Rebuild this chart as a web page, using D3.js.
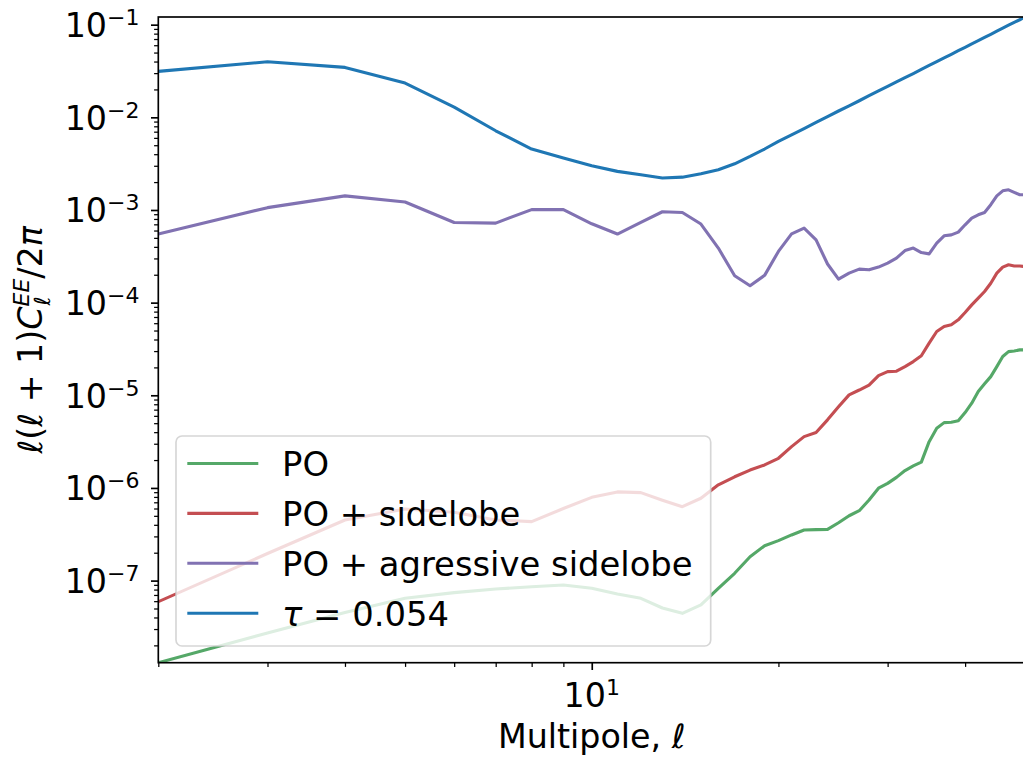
<!DOCTYPE html>
<html>
<head>
<meta charset="utf-8">
<script src="https://cdn.jsdelivr.net/npm/d3@7"></script>
<style>
  body { margin: 0; background: #ffffff; }
  svg { display: block; }
  text { font-family: "DejaVu Sans", sans-serif; fill: #000000; }
</style>
</head>
<body>
<svg id="chart" width="1023" height="757"></svg>
<script>
// Multipoles ℓ and the EE band powers ℓ(ℓ+1)C_ℓ/2π for each case
const multipoles = [2, 3, 4, 5, 6, 7, 8, 9, 10, 11, 12, 13, 14, 15, 16, 17, 18, 19, 20,
  21, 22, 23, 24, 25, 26, 27, 28, 29, 30, 31, 32, 33, 34, 35, 36, 37, 38, 39, 40,
  41, 42, 43, 44, 45, 46, 47, 48, 49, 50];

const clPO = [1.30e-8, 2.72e-8, 4.53e-8, 6.44e-8, 7.41e-8, 8.11e-8, 8.59e-8, 8.96e-8, 8.26e-8,
  7.16e-8, 6.44e-8, 5.06e-8, 4.43e-8, 5.46e-8, 8.26e-8, 1.20e-7, 1.81e-7, 2.38e-7, 2.70e-7,
  3.11e-7, 3.52e-7, 3.55e-7, 3.57e-7, 4.21e-7, 5.01e-7, 5.68e-7, 7.41e-7, 9.93e-7, 1.12e-6,
  1.30e-6, 1.54e-6, 1.73e-6, 1.90e-6, 3.16e-6, 4.42e-6, 5.07e-6, 5.12e-6, 5.30e-6, 6.51e-6,
  8.22e-6, 1.10e-5, 1.33e-5, 1.59e-5, 2.04e-5, 2.62e-5, 2.96e-5, 3.01e-5, 3.09e-5, 3.09e-5];

const clSidelobe = [5.92e-8, 1.96e-7, 4.51e-7, 5.93e-7, 5.46e-7, 4.51e-7, 4.33e-7, 6.00e-7, 7.92e-7,
  9.06e-7, 8.90e-7, 7.38e-7, 6.28e-7, 7.74e-7, 1.08e-6, 1.32e-6, 1.56e-6, 1.77e-6, 2.09e-6,
  2.79e-6, 3.58e-6, 3.96e-6, 5.43e-6, 7.50e-6, 1.01e-5, 1.14e-5, 1.29e-5, 1.63e-5, 1.80e-5,
  1.82e-5, 2.04e-5, 2.31e-5, 2.67e-5, 3.66e-5, 4.88e-5, 5.52e-5, 5.76e-5, 6.52e-5, 7.82e-5,
  9.46e-5, 1.12e-4, 1.32e-4, 1.62e-4, 2.08e-4, 2.42e-4, 2.56e-4, 2.49e-4, 2.49e-4, 2.45e-4];

const clAggressive = [5.50e-4, 1.06e-3, 1.42e-3, 1.22e-3, 7.33e-4, 7.22e-4, 1.01e-3, 1.01e-3, 7.10e-4,
  5.50e-4, 7.33e-4, 9.57e-4, 9.40e-4, 7.05e-4, 3.88e-4, 1.95e-4, 1.52e-4, 1.97e-4, 3.57e-4,
  5.53e-4, 6.37e-4, 4.76e-4, 2.61e-4, 1.79e-4, 2.08e-4, 2.30e-4, 2.26e-4, 2.42e-4, 2.67e-4,
  3.02e-4, 3.65e-4, 3.88e-4, 3.47e-4, 3.36e-4, 4.39e-4, 5.26e-4, 5.39e-4, 5.77e-4, 6.92e-4,
  8.17e-4, 8.87e-4, 9.40e-4, 1.14e-3, 1.42e-3, 1.61e-3, 1.65e-3, 1.55e-3, 1.46e-3, 1.46e-3];

const clTau = [0.0313, 0.0398, 0.0346, 0.0234, 0.0129, 0.00716, 0.00455, 0.00363, 0.00300,
  0.00261, 0.00240, 0.00221, 0.00226, 0.00246, 0.00272, 0.00315, 0.00378, 0.00455, 0.00550,
  0.00647, 0.00757, 0.00881, 0.0102, 0.0117, 0.0133, 0.0151, 0.0171, 0.0193, 0.0216,
  0.0241, 0.0268, 0.0297, 0.0329, 0.0363, 0.0400, 0.0438, 0.0479, 0.0524, 0.0570,
  0.0621, 0.0672, 0.0729, 0.0787, 0.0851, 0.0917, 0.0986, 0.106, 0.113, 0.121];

const seriesLabels = ["PO", "PO + sidelobe", "PO + agressive sidelobe", "τ = 0.054"];
const seriesColors = ["#55a868", "#c44e52", "#8172b2", "#1f77b4"];
const seriesValues = [clPO, clSidelobe, clAggressive, clTau];

const yLabelExponents = [-7, -6, -5, -4, -3, -2, -1];
const xLabelTicks = [10];

// ---- layout ----
const FONT = 33.3, SUP = 22, LEGEND_FONT = 33.8;
const area = { left: 158.3, right: 1025.2, top: 17, bottom: 662.7 };
const svg = d3.select("#chart");

const x = d3.scaleLog()
  .domain([multipoles[0], multipoles[multipoles.length - 1]])
  .range([area.left, area.right]);
const allValues = [].concat(...seriesValues);
const y = d3.scaleLog()
  .domain([d3.min(allValues), d3.max(allValues)])
  .range([area.bottom, area.top]);

svg.append("defs").append("clipPath").attr("id", "plotClip")
  .append("rect")
  .attr("x", area.left).attr("y", area.top)
  .attr("width", area.right - area.left).attr("height", area.bottom - area.top);

// ---- series lines ----
const line = d3.line()
  .x((d, i) => x(multipoles[i]))
  .y(d => y(d));

const lines = svg.append("g").attr("clip-path", "url(#plotClip)");
seriesValues.forEach((vals, k) => {
  lines.append("path")
    .datum(vals)
    .attr("d", line)
    .attr("fill", "none")
    .attr("stroke", seriesColors[k])
    .attr("stroke-width", 3.1)
    .attr("stroke-linejoin", "round")
    .attr("stroke-linecap", "butt");
});

// ---- axes: ticks ----
const isDecade = v => Math.abs(Math.log10(v) - Math.round(Math.log10(v))) < 1e-9;
const yTicks = y.ticks();
const xTicks = x.ticks();

function styleAxis(g, width) {
  g.select(".domain").remove();
  g.selectAll(".tick line").attr("stroke", "#000").attr("stroke-width", width);
  g.selectAll(".tick text").remove();
}

svg.append("g").attr("transform", `translate(${area.left},0)`)
  .call(d3.axisLeft(y).tickValues(yTicks.filter(v => !isDecade(v))).tickSize(4.2).tickFormat(() => ""))
  .call(g => styleAxis(g, 1.25));
svg.append("g").attr("transform", `translate(${area.left},0)`)
  .call(d3.axisLeft(y).tickValues(yTicks.filter(isDecade)).tickSize(7.3).tickFormat(() => ""))
  .call(g => styleAxis(g, 1.67));

svg.append("g").attr("transform", `translate(0,${area.bottom})`)
  .call(d3.axisBottom(x).tickValues(xTicks.filter(v => !isDecade(v))).tickSize(4.2).tickFormat(() => ""))
  .call(g => styleAxis(g, 1.25));
svg.append("g").attr("transform", `translate(0,${area.bottom})`)
  .call(d3.axisBottom(x).tickValues(xTicks.filter(isDecade)).tickSize(7.3).tickFormat(() => ""))
  .call(g => styleAxis(g, 1.67));

// ---- tick labels (10^k) ----
function powerLabel(sel, exponent) {
  sel.append("tspan").attr("font-size", FONT).text("10");
  sel.append("tspan").attr("font-size", SUP).attr("dy", -12)
    .text(exponent < 0 ? "\u2212" + Math.abs(exponent) : String(exponent));
}

yLabelExponents.forEach(e => {
  const t = svg.append("text")
    .attr("x", 139.5).attr("y", y(Math.pow(10, e)) + 12.3)
    .attr("text-anchor", "end");
  powerLabel(t, e);
});

xLabelTicks.forEach(v => {
  const t = svg.append("text")
    .attr("x", x(v)).attr("y", 707)
    .attr("text-anchor", "middle");
  powerLabel(t, Math.round(Math.log10(v)));
});

// ---- spines ----
svg.append("rect")
  .attr("x", area.left).attr("y", area.top)
  .attr("width", area.right - area.left).attr("height", area.bottom - area.top)
  .attr("fill", "none").attr("stroke", "#000").attr("stroke-width", 1.67);

// ---- axis titles ----
const xTitle = svg.append("text")
  .attr("x", (area.left + area.right) / 2).attr("y", 748)
  .attr("text-anchor", "middle").attr("font-size", FONT);
xTitle.append("tspan").text("Multipole, ");
xTitle.append("tspan").attr("font-style", "italic").text("ℓ");

const yTitleG = svg.append("g")
  .attr("transform", `translate(42,${(area.top + area.bottom) / 2}) rotate(-90)`);
const yTitle = yTitleG.append("text").attr("x", 0).attr("y", 0).attr("font-size", FONT);
yTitle.append("tspan").attr("font-style", "italic").text("ℓ");
yTitle.append("tspan").text("(");
yTitle.append("tspan").attr("font-style", "italic").text("ℓ");
yTitle.append("tspan").text(" + 1)");
yTitle.append("tspan").attr("font-style", "italic").text("C");
const supEE = yTitle.append("tspan").attr("font-style", "italic")
  .attr("font-size", SUP).attr("dy", -13).text("EE");
const supW = supEE.node().getComputedTextLength();
const subL = yTitle.append("tspan").attr("font-style", "italic")
  .attr("font-size", SUP).attr("dx", -supW + 1).attr("dy", 21).text("ℓ");
const subW = subL.node().getComputedTextLength();
yTitle.append("tspan").attr("dx", supW - subW - 1).attr("dy", -8).text("/2");
yTitle.append("tspan").attr("font-style", "italic").text("π");
const yb = yTitle.node().getBBox();
yTitle.attr("x", -(yb.x + yb.width / 2));

// ---- legend ----
const legend = svg.append("g");
legend.append("rect")
  .attr("x", 176).attr("y", 436)
  .attr("width", 710.7 - 176).attr("height", 646 - 436)
  .attr("rx", 6).attr("ry", 6)
  .attr("fill", "#ffffff").attr("fill-opacity", 0.8)
  .attr("stroke", "#cccccc").attr("stroke-opacity", 0.8).attr("stroke-width", 1.67);

seriesLabels.forEach((label, i) => {
  const cy = 463.5 + i * 49.9;
  legend.append("line")
    .attr("x1", 187.3).attr("x2", 258.3)
    .attr("y1", cy).attr("y2", cy)
    .attr("stroke", seriesColors[i]).attr("stroke-width", 3.1);
  const t = legend.append("text")
    .attr("x", 282).attr("y", cy + 12.4)
    .attr("font-size", LEGEND_FONT);
  if (label.startsWith("τ")) {
    t.append("tspan").attr("font-style", "italic").text("τ");
    t.append("tspan").text(label.slice(1));
  } else {
    t.text(label);
  }
});
</script>
</body>
</html>
